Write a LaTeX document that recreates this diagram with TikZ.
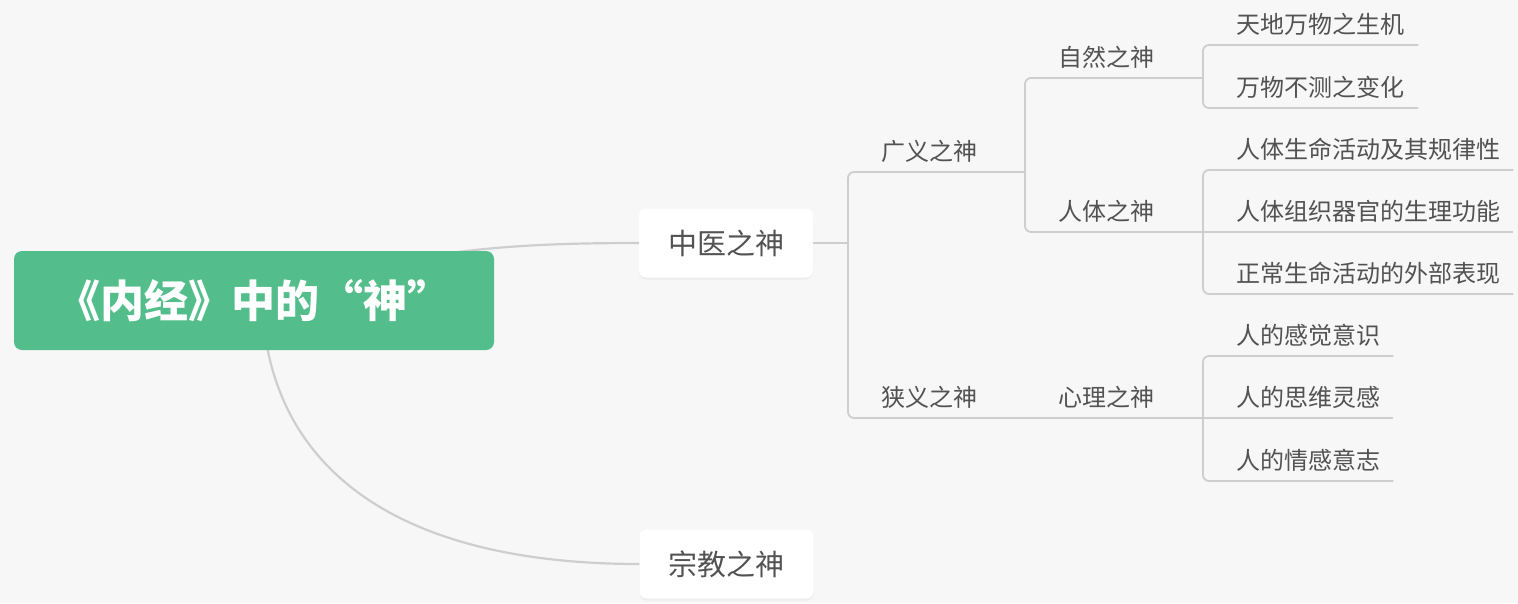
\documentclass[tikz,border=0pt]{standalone}
\usepackage{fontspec}
\setmainfont{Noto Sans CJK SC}
\usetikzlibrary{shadows}
\definecolor{paper}{RGB}{247,247,247}
\definecolor{jade}{RGB}{83,190,139}
\definecolor{ink}{RGB}{82,82,82}
\definecolor{wirec}{RGB}{206,206,206}
\begin{document}
\begin{tikzpicture}[x=1pt,y=-1pt,
    wire/.style={draw=wirec, line width=1.8pt, rounded corners=6pt},
    sweep/.style={draw=wirec, line width=2.2pt},
    topic/.style={fill=white, rounded corners=7pt, minimum width=174pt, minimum height=69pt,
        text=ink, font=\fontsize{29}{34}\selectfont,
        drop shadow={shadow xshift=0pt, shadow yshift=-2pt, opacity=0.08}},
    twig/.style={anchor=south west, inner sep=0pt, text width=#1, align=left,
        text height=20pt, text depth=11pt, text=ink, font=\fontsize{24}{29}\selectfont,
        execute at begin node={\noindent\hspace*{33pt}}}]
    \useasboundingbox (0,0) rectangle (1518,603);
    \fill[paper] (0,0) rectangle (1518,603);

    \node[topic] (zhongyi) at (726,243) {中医之神};
    \node[topic] (zongjiao) at (726.5,564) {宗教之神};

    \node[twig=177pt] (guangyi) at (848,172) {广义之神};
    \node[twig=177pt] (xiayi) at (848,418) {狭义之神};
    \node[twig=178pt] (ziran) at (1025,78) {自然之神};
    \node[twig=178pt] (renti) at (1025,232) {人体之神};
    \node[twig=178pt] (xinli) at (1025,418) {心理之神};
    \node[twig=215pt] (tiandi) at (1203,45) {天地万物之生机};
    \node[twig=215pt] (wanwu) at (1203,108) {万物不测之变化};
    \node[twig=310pt] (shengming) at (1203,170) {人体生命活动及其规律性};
    \node[twig=310pt] (zuzhi) at (1203,232) {人体组织器官的生理功能};
    \node[twig=310pt] (waibu) at (1203,294) {正常生命活动的外部表现};
    \node[twig=190pt] (ganjue) at (1203,356) {人的感觉意识};
    \node[twig=190pt] (siwei) at (1203,418) {人的思维灵感};
    \node[twig=190pt] (qinggan) at (1203,481) {人的情感意志};

    \draw[wire] (zhongyi.east) -- (zhongyi.east -| guangyi.south west);
    \draw[wire] (guangyi.south east) -- (guangyi.south west) -- (xiayi.south west) -- (xiayi.south east);
    \draw[wire] (ziran.south east) -- (ziran.south west) -- (renti.south west) -- (renti.south east);
    \draw[wire] (xinli.south west) -- (xinli.south east);
    \draw[wire] (tiandi.south east) -- (tiandi.south west) -- (wanwu.south west) -- (wanwu.south east);
    \draw[wire] (shengming.south east) -- (shengming.south west) -- (waibu.south west) -- (waibu.south east);
    \draw[wire] (zuzhi.south west) -- (zuzhi.south east);
    \draw[wire] (ganjue.south east) -- (ganjue.south west) -- (qinggan.south west) -- (qinggan.south east);
    \draw[wire] (siwei.south west) -- (siwei.south east);

    \coordinate (hub) at (254,300.5);
    \draw[sweep] (hub) .. controls +(148,-50) and +(-138,0) .. (zhongyi.west);
    \draw[sweep] ([xshift=8pt]hub) .. controls +(6,170) and +(-240,0) .. (zongjiao.west);

    \node[fill=jade, rounded corners=8pt, minimum width=480pt, minimum height=99pt,
        text=white, font=\bfseries\fontsize{44}{50}\selectfont] (root) at (hub) {《内经》中的“神”};
\end{tikzpicture}
\end{document}
